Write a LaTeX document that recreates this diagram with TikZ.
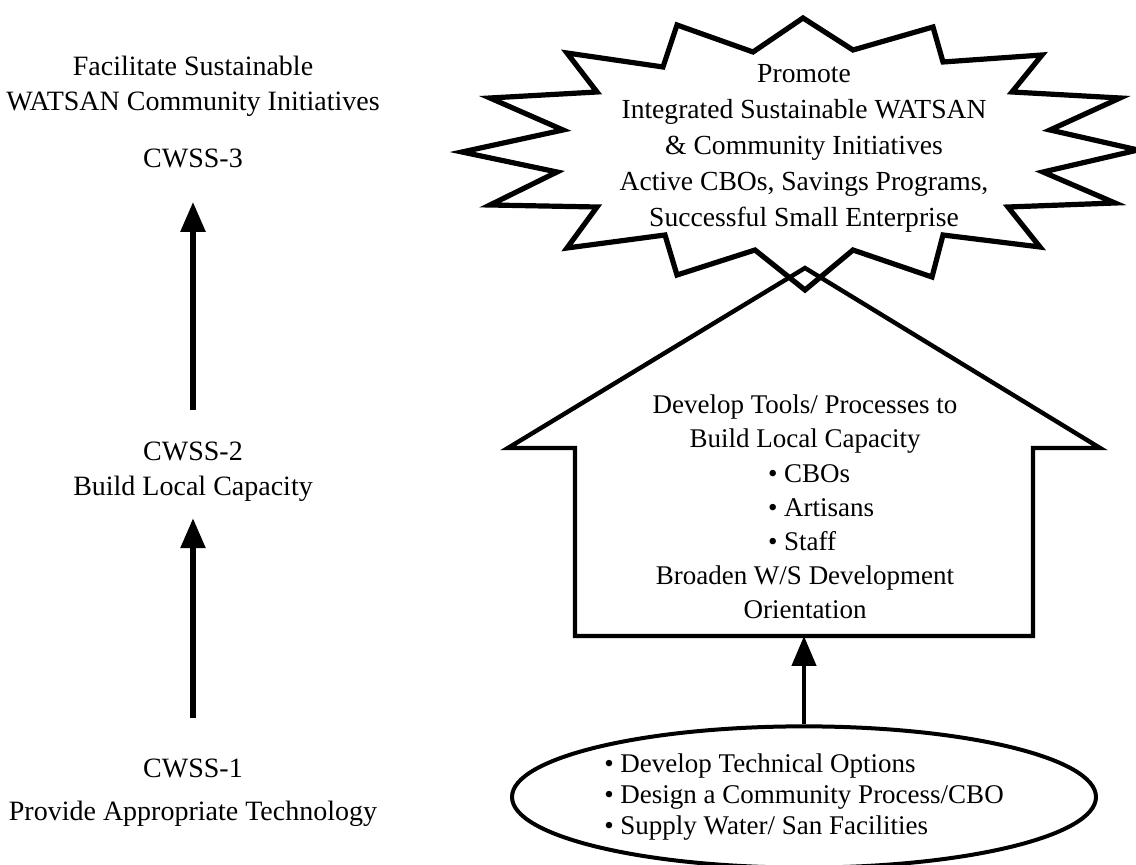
\documentclass[tikz,border=0pt]{standalone}
\usepackage{fontspec}
\setmainfont{Liberation Serif}
\usetikzlibrary{arrows.meta, shapes.geometric, positioning}

\begin{document}
\begin{tikzpicture}[x=0.5pt, y=-0.5pt,
    txt/.style={align=center, inner sep=0pt, font=\fontsize{13.5}{17.5}\selectfont},
    stage/.style={txt, font=\fontsize{14}{17.5}\selectfont},
    uparrow/.style={line width=2.8pt, -{Triangle[length=15pt,width=12pt]}},
    outline/.style={line width=2.6pt, line join=miter}]
    \useasboundingbox (0,0) rectangle (1136,865);

    % Left column: stages
    \node[stage] (goal) at (193,86) {Facilitate Sustainable\\WATSAN Community Initiatives};
    \node[stage] (cwss3) at (193,158) {CWSS-3};
    \node[stage] (cwss2) at (193,472) {CWSS-2\\Build Local Capacity};
    \node[stage] (cwss1) at (193,768) {CWSS-1};
    \node[stage] (tech) at (193,814) {Provide Appropriate Technology};

    \draw[uparrow, shorten <=16pt, shorten >=17pt] (cwss2) -- (cwss3);
    \draw[uparrow, shorten <=20pt, shorten >=8pt] (cwss1) -- (cwss2);

    % Starburst
    \draw[outline] (803,18) -- (853,50) -- (933,27) -- (943,62) -- (1042,55)
        -- (1012,92) -- (1120,98) -- (1050,130) -- (1138,150) -- (1043,172)
        -- (1115,203) -- (1008,207) -- (1040,247) -- (943,235) -- (932,277)
        -- (853,250) -- (805,290) -- (755,250) -- (677,275) -- (665,235)
        -- (567,248) -- (597,207) -- (490,205) -- (557,172) -- (462,152)
        -- (563,130) -- (490,98) -- (597,92) -- (567,53) -- (663,67)
        -- (677,25) -- (753,52) -- cycle;
    \node[txt, font=\fontsize{13.8}{18}\selectfont] (promote) at (804,148)
        {Promote\\Integrated Sustainable WATSAN\\\& Community Initiatives\\
         Active CBOs, Savings Programs,\\Successful Small Enterprise};

    % House
    \draw[outline, line width=2.2pt] (805,268) -- (1100,448) -- (1033,448) -- (1033,636)
        -- (575,636) -- (575,448) -- (508,448) -- cycle;
    \coordinate (housebase) at (804,636);
    \node[txt, font=\fontsize{13.5}{17.1}\selectfont] (tools) at (805,507)
        {Develop Tools/ Processes to\\Build Local Capacity\\
         \makebox[37pt][l]{\textbullet\ CBOs}\\
         \makebox[37pt][l]{\textbullet\ Artisans}\\
         \makebox[37pt][l]{\textbullet\ Staff}\\
         Broaden W/S Development\\Orientation};

    % Ellipse with first steps
    \node[draw, ellipse, line width=2pt, minimum width=292pt, minimum height=63pt,
        align=left, font=\fontsize{13.5}{15.5}\selectfont] (tasks) at (804,797)
        {\textbullet\ Develop Technical Options\\\textbullet\ Design a Community Process/CBO\\
         \textbullet\ Supply Water/ San Facilities};
    \draw[uparrow, line width=2.2pt] (tasks) -- (housebase);
\end{tikzpicture}
\end{document}
